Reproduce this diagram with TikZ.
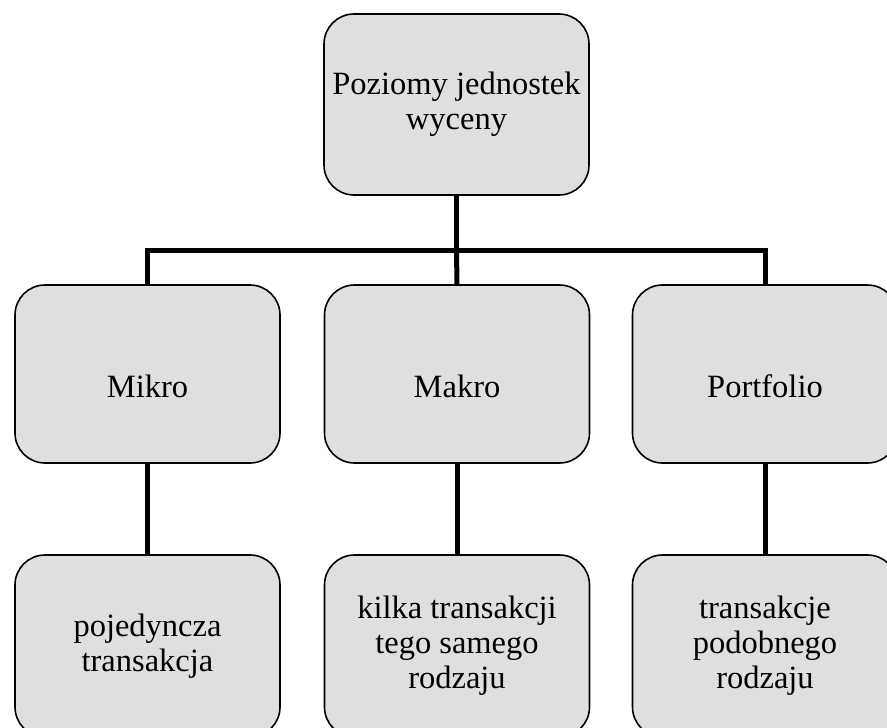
\documentclass[tikz,border=0pt]{standalone}
\usepackage{fontspec}
\setmainfont{Liberation Serif}
\usetikzlibrary{calc}

\begin{document}
\begin{tikzpicture}[x=1pt,y=-1pt,
  box/.style={draw, line width=1.6pt, fill=gray!25, rounded corners=30pt,
    minimum width=265pt, align=center, inner sep=0pt,
    font=\fontsize{32.5}{35}\selectfont},
  conn/.style={line width=5pt}]
\useasboundingbox (0,0) rectangle (887,728);
\node[box, minimum height=181pt] (top) at (456.5,104.5) {Poziomy jednostek\\wyceny};
\node[box, minimum height=178pt, text height=46pt, text depth=0pt] (mikro) at (147.5,374) {Mikro};
\node[box, minimum height=178pt, text height=46pt, text depth=0pt] (makro) at (457,374) {Makro};
\node[box, minimum height=178pt, text height=46pt, text depth=0pt] (portf) at (765,374) {Portfolio};
\node[box, minimum height=182pt] (pojed) at (147.5,646) {pojedyncza\\transakcja};
\node[box, minimum height=182pt] (kilka) at (457,646) {kilka transakcji\\tego samego\\rodzaju};
\node[box, minimum height=182pt] (podob) at (765,646) {transakcje\\podobnego\\rodzaju};
\coordinate (bus) at ($(top.south)+(0,55)$);
\draw[conn] (top.south) -- (bus) -| (mikro.north);
\draw[conn] (bus) -- (makro.north);
\draw[conn] (bus) -| (portf.north);
\draw[conn] (mikro.south) -- (pojed.north);
\draw[conn] (makro.south) -- (kilka.north);
\draw[conn] (portf.south) -- (podob.north);
\end{tikzpicture}
\end{document}
